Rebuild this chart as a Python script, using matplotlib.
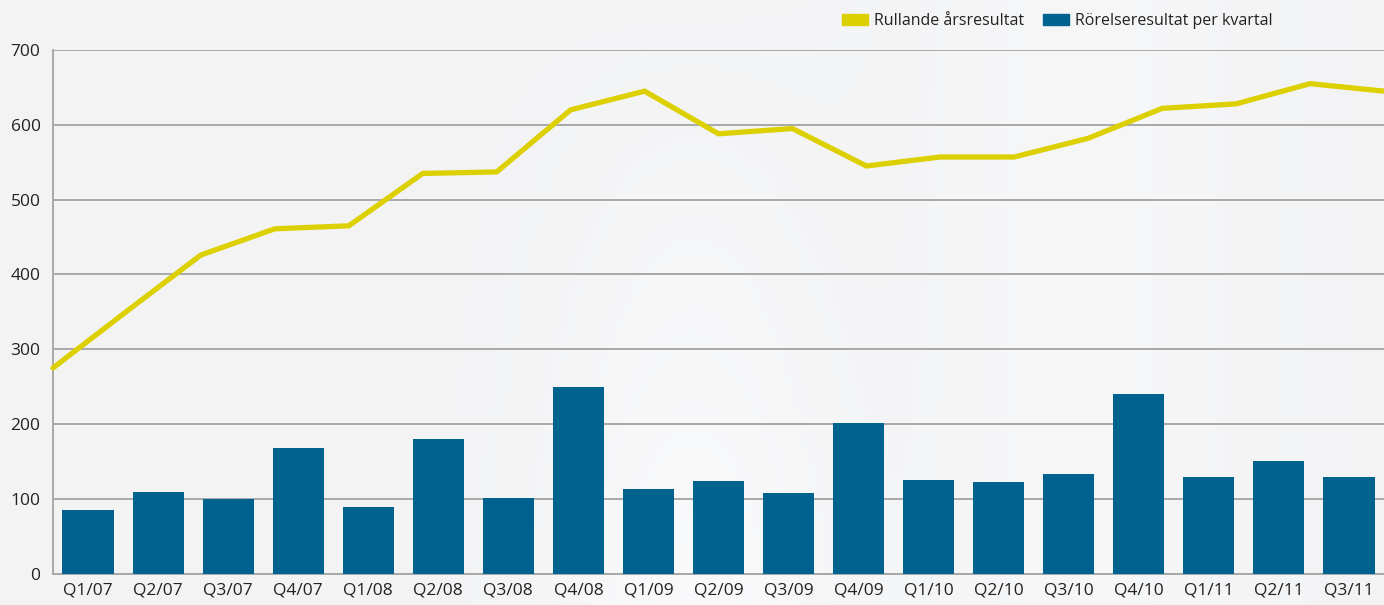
import matplotlib
matplotlib.use("Agg")
import matplotlib.pyplot as plt
import numpy as np
from matplotlib.patches import Patch
from matplotlib import rcParams
rcParams['font.family'] = ['Open Sans', 'DejaVu Sans']

quarters = ['Q1/07', 'Q2/07', 'Q3/07', 'Q4/07', 'Q1/08', 'Q2/08', 'Q3/08', 'Q4/08',
            'Q1/09', 'Q2/09', 'Q3/09', 'Q4/09', 'Q1/10', 'Q2/10', 'Q3/10', 'Q4/10',
            'Q1/11', 'Q2/11', 'Q3/11']
rorelse = [85, 109, 100, 168, 89, 180, 101, 250, 113, 124, 108, 201,
           125, 123, 133, 240, 129, 151, 129]
rullande = [275, 351, 426, 461, 465, 535, 537, 620, 645, 588, 595, 545,
            557, 557, 582, 622, 628, 655, 645]
yticks = [0, 100, 200, 300, 400, 500, 600, 700]

yellow = '#DDD000'
blue = '#00628E'
gridc = '#A8A8A8'

fig = plt.figure(figsize=(13.84, 6.05), dpi=100, facecolor='#F3F4F6')
# faint background shading, smooth
bg = fig.add_axes([0, 0, 1, 1], zorder=-10)
gx = np.linspace(0, 1, 300)
gy = np.linspace(0, 1, 150)
X, Y = np.meshgrid(gx, gy)
shade = 0.952 + 0.025 * np.exp(-((X - 0.5) / 0.1) ** 2) * Y + 0.012 * np.exp(-((X - 0.78) / 0.12) ** 2)
bg.imshow(np.dstack([shade + 0.002, shade + 0.003, shade + 0.008]).clip(0, 1),
          extent=[0, 1, 0, 1], aspect='auto', origin='upper')
bg.axis('off')

ax = fig.add_axes([53 / 1384, 1 - 573.7 / 605, 1 - 53 / 1384, (573.7 - 50) / 605])
ax.set_facecolor('none')
x = np.arange(len(quarters))
ax.bar(x, rorelse, width=0.73, color=blue, zorder=3)
xline = np.linspace(-0.5, len(quarters) - 0.5, len(rullande))
ax.plot(xline, rullande, color=yellow, lw=3.8, zorder=4, solid_capstyle='round',
        solid_joinstyle='miter', clip_on=False)

ax.set_xlim(-0.5, len(quarters) - 0.5)
ax.set_ylim(0, 700)
ax.set_yticks(yticks)
ax.set_xticks(x)
ax.set_xticklabels(quarters)
ax.yaxis.grid(True, color=gridc, lw=1.4, zorder=1)
ax.set_axisbelow(True)
for s in ['top', 'right']:
    ax.spines[s].set_visible(False)
ax.spines['left'].set_color(gridc)
ax.spines['left'].set_linewidth(1.4)
ax.spines['bottom'].set_color(gridc)
ax.spines['bottom'].set_linewidth(1.4)
ax.tick_params(length=0, labelsize=12.5, labelcolor='#222222')
ax.tick_params(axis='y', pad=9)
ax.tick_params(axis='x', pad=6)

handles = [Patch(color=yellow, label='Rullande årsresultat'),
           Patch(color=blue, label='Rörelseresultat per kvartal')]
fig.legend(handles=handles, loc='center left', bbox_to_anchor=(834 / 1384, 1 - 21 / 605),
           ncol=2, frameon=False, fontsize=11.5, handlelength=1.6, handleheight=0.75,
           handletextpad=0.4, columnspacing=1.2, borderpad=0, labelcolor='#222222')

fig.savefig('out.png', dpi=100, facecolor=fig.get_facecolor())
